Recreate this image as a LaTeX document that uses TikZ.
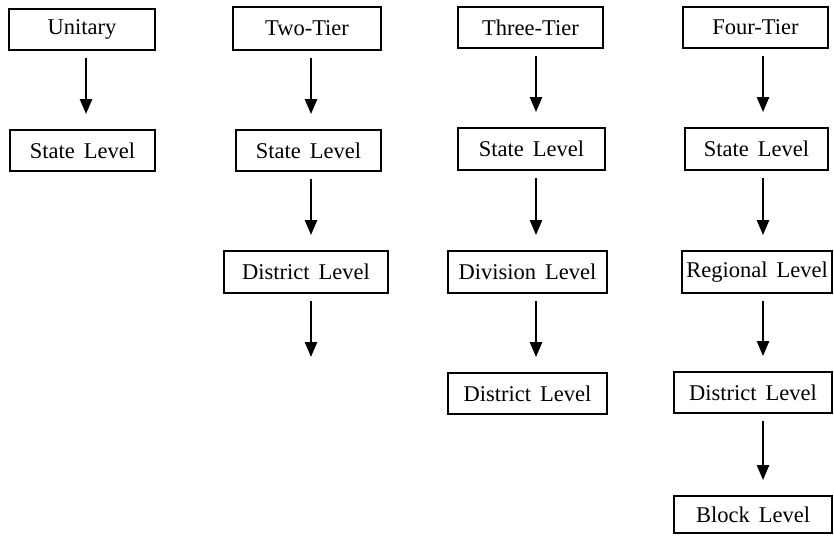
\documentclass[tikz,border=0pt]{standalone}
\usepackage{fontspec}
\setmainfont{Liberation Serif}[WordSpace={1.6}]
\usetikzlibrary{arrows.meta}
\begin{document}
\begin{tikzpicture}[x=1pt,y=1pt,
  box/.style={draw=black,line width=1.8pt,rectangle,inner sep=0pt,font=\fontsize{22.5}{26}\selectfont},
  arr/.style={line width=2.4pt,-{Triangle[width=12pt,length=15pt]},shorten <=7pt,shorten >=15pt}]
\useasboundingbox (0,0) rectangle (834,536);
% column x positions for arrows
\coordinate (c1) at (86,0);
\coordinate (c2) at (311,0);
\coordinate (c3) at (536,0);
\coordinate (c4) at (763,0);
% Unitary
\node[box,minimum width=146pt,minimum height=41pt] (u) at (82,506.5) {Unitary};
\node[box,minimum width=145pt,minimum height=41pt] (us) at (82.5,385.5) {State Level};
% Two-tier
\node[box,minimum width=148pt,minimum height=43pt] (t) at (307,507.5) {Two-Tier};
\node[box,minimum width=145pt,minimum height=41pt] (ts) at (308.5,385.5) {State Level};
\node[box,minimum width=164pt,minimum height=42pt] (td) at (306,264) {District Level};
\coordinate (tend) at (311,179);
% Three-tier
\node[box,minimum width=145pt,minimum height=41pt] (h) at (530.5,508.5) {Three-Tier};
\node[box,minimum width=147pt,minimum height=42pt] (hs) at (531.5,387) {State Level};
\node[box,minimum width=159pt,minimum height=42pt] (hv) at (527.5,264) {Division Level};
\node[box,minimum width=159pt,minimum height=41pt] (hd) at (527.5,142.5) {District Level};
% Four-tier
\node[box,minimum width=145pt,minimum height=41pt] (f) at (755.5,508.5) {Four-Tier};
\node[box,minimum width=143pt,minimum height=42pt] (fs) at (756.5,387) {State Level};
\node[box,minimum width=150pt,minimum height=42pt] (fr) at (757,264) {Regional Level};
\node[box,minimum width=158pt,minimum height=41pt] (fd) at (753,143.5) {District Level};
\node[box,minimum width=158pt,minimum height=37pt] (fb) at (753,21.5) {Block Level};
% arrows
\draw[arr] (u.south -| c1) -- (us.north -| c1);
\draw[arr] (t.south -| c2) -- (ts.north -| c2);
\draw[arr] (ts.south -| c2) -- (td.north -| c2);
\draw[arr,shorten >=0pt] (td.south -| c2) -- (tend);
\draw[arr] (h.south -| c3) -- (hs.north -| c3);
\draw[arr] (hs.south -| c3) -- (hv.north -| c3);
\draw[arr] (hv.south -| c3) -- (hd.north -| c3);
\draw[arr] (f.south -| c4) -- (fs.north -| c4);
\draw[arr] (fs.south -| c4) -- (fr.north -| c4);
\draw[arr] (fr.south -| c4) -- (fd.north -| c4);
\draw[arr] (fd.south -| c4) -- (fb.north -| c4);
\end{tikzpicture}
\end{document}
